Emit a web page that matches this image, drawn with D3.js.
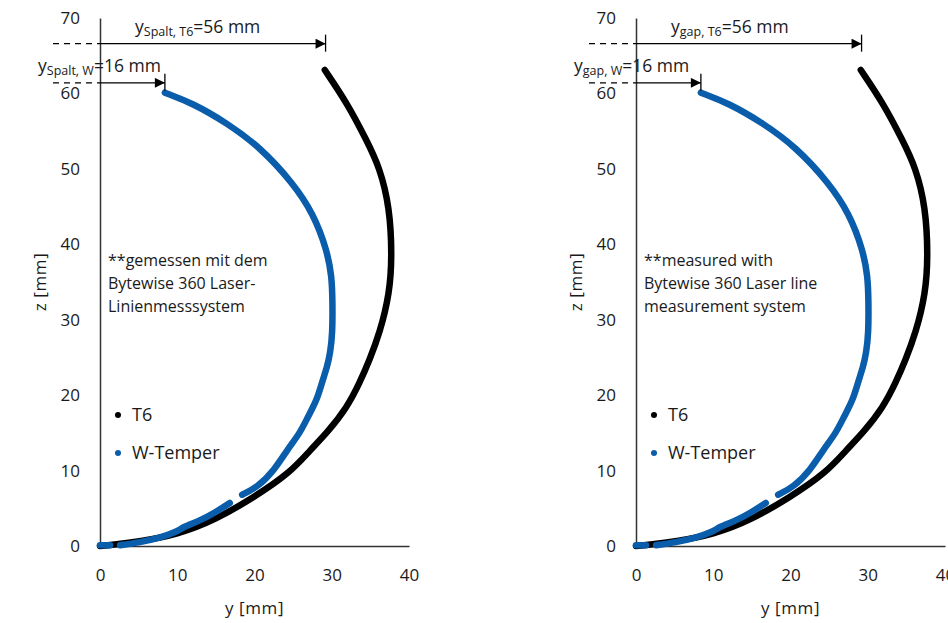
<!doctype html>
<html lang="de">
<head>
<meta charset="utf-8">
<title>Spaltmaß T6 / W-Temper</title>
<script src="https://cdn.jsdelivr.net/npm/d3@7"></script>
<style>
    body { margin: 0; background: #fff; }
    svg text { font-family: "Open Sans", Lato, sans-serif; fill: #1a1a1a; }
</style>
</head>
<body>
<svg id="chart" width="948" height="623"></svg>
<script>
    // axis ticks
    const yTicks = [0, 10, 20, 30, 40];
    const zTicks = [0, 10, 20, 30, 40, 50, 60, 70];

    // T6 profile, [y mm, z mm]
    const t6Points = [[0, 0], [2, 0.2], [5, 0.6], [10, 1.5], [15, 3.5], [20, 6.5], [24.6, 9.7],
        [27.2, 12.7], [29.4, 15], [32, 18.4], [33.6, 21.6], [34.9, 24.7], [36.2, 28.2],
        [37.5, 33.5], [37.8, 38.5], [37.5, 44.9], [36.2, 50.2], [34.5, 53.8], [32, 58.7],
        [29.1, 63.1]];

    // W-Temper profile, three pieces because of gaps in the scan
    const wTemperA = [[0, 0.1], [1.3, 0.1]];
    const wTemperB = [[2.6, 0.1], [5.2, 0.5], [7.5, 1.0], [10, 1.9], [10.7, 2.5], [13, 3.4],
        [15, 4.5], [16.8, 5.7]];
    const wTemperC = [[18.4, 6.8], [20.4, 7.8], [22.6, 10.1], [24.2, 12.7], [25.9, 15],
        [26.9, 17.1], [28.1, 19.4], [28.7, 21.6], [29.4, 23.7], [29.8, 25.6], [30.1, 28.2],
        [30.1, 32.6], [30, 35.7], [29.4, 39.2], [27.6, 44.1], [25, 48.1], [20.7, 52.9],
        [16.4, 56.1], [12, 58.7], [8.4, 60.1]];

    // gap annotations
    const gapT6 = { z: 66.6, y: 29.2, value: "=56 mm" };
    const gapW = { z: 61.4, y: 8.4, value: "=16 mm" };

    const panels = [
        { x0: 100, sub: "Spalt", note: ["**gemessen mit dem", "Bytewise 360 Laser-", "Linienmesssystem"] },
        { x0: 636, sub: "gap", note: ["**measured with", "Bytewise 360 Laser line", "measurement system"] }
    ];

    const black = "#000000", blue = "#0a5dab";
    const svg = d3.select("#chart");

    svg.append("defs").append("marker")
        .attr("id", "arrow")
        .attr("viewBox", "0 0 10 10")
        .attr("refX", 10).attr("refY", 5)
        .attr("markerWidth", 15).attr("markerHeight", 10)
        .attr("markerUnits", "userSpaceOnUse")
        .attr("orient", "auto")
        .append("path")
        .attr("d", "M0,0L10,5L0,10Z")
        .attr("fill", "#000");

    panels.forEach(function (p) {
        const x = d3.scaleLinear().domain([0, 40]).range([p.x0, p.x0 + 309]);
        const y = d3.scaleLinear().domain([0, 70]).range([546, 18]);
        const g = svg.append("g");

        // axes
        g.append("g")
            .attr("transform", "translate(0,546)")
            .call(d3.axisBottom(x).tickValues(yTicks).tickSize(0).tickPadding(23))
            .call(a => a.select(".domain").attr("stroke", "#333").attr("stroke-width", 1.5))
            .call(a => a.selectAll("text").attr("font-size", 17).attr("font-family", null).attr("fill", "#1a1a1a"));

        g.append("g")
            .attr("transform", "translate(" + p.x0 + ",0)")
            .call(d3.axisLeft(y).tickValues(zTicks).tickSize(0).tickPadding(20))
            .call(a => a.select(".domain").attr("stroke", "#333").attr("stroke-width", 1.5))
            .call(a => a.selectAll("text").attr("font-size", 17).attr("font-family", null).attr("fill", "#1a1a1a"));

        g.append("text")
            .attr("x", x(20)).attr("y", 614)
            .attr("text-anchor", "middle").attr("font-size", 17)
            .attr("letter-spacing", 0.6)
            .text("y [mm]");

        g.append("text")
            .attr("transform", "translate(" + (p.x0 - 54) + "," + y(35) + ") rotate(-90)")
            .attr("text-anchor", "middle").attr("font-size", 17)
            .attr("letter-spacing", 0.6)
            .text("z [mm]");

        // profiles
        const line = d3.line()
            .x(d => x(d[0]))
            .y(d => y(d[1]))
            .curve(d3.curveBasis);

        g.append("path").datum(t6Points)
            .attr("d", line).attr("fill", "none")
            .attr("stroke", black).attr("stroke-width", 6.5)
            .attr("stroke-linecap", "round").attr("stroke-linejoin", "round");

        [wTemperA, wTemperB, wTemperC].forEach(function (seg) {
            g.append("path").datum(seg)
                .attr("d", line).attr("fill", "none")
                .attr("stroke", blue).attr("stroke-width", 6.5)
                .attr("stroke-linecap", "round").attr("stroke-linejoin", "round");
        });

        // gap arrows
        [gapT6, gapW].forEach(function (a, i) {
            g.append("line")
                .attr("x1", p.x0 - 47).attr("x2", p.x0)
                .attr("y1", y(a.z)).attr("y2", y(a.z))
                .attr("stroke", "#000").attr("stroke-width", 1.3)
                .attr("stroke-dasharray", "6,5");
            g.append("line")
                .attr("x1", p.x0).attr("x2", x(a.y))
                .attr("y1", y(a.z)).attr("y2", y(a.z))
                .attr("stroke", "#000").attr("stroke-width", 1.3)
                .attr("marker-end", "url(#arrow)");
            g.append("line")
                .attr("x1", x(a.y)).attr("x2", x(a.y))
                .attr("y1", y(a.z) - 9).attr("y2", y(a.z) + 8)
                .attr("stroke", "#000").attr("stroke-width", 1.3);

            const lx = i === 0 ? p.x0 + 35 : p.x0 - 62;
            const t = g.append("text")
                .attr("x", lx).attr("y", y(a.z) - 11)
                .attr("font-size", 17.5);
            t.append("tspan").text("y");
            t.append("tspan").attr("font-size", 12.5).attr("dy", 3)
                .text(p.sub + (i === 0 ? ", T6" : ", W"));
            t.append("tspan").attr("dy", -3).text(a.value);
        });

        // note
        g.append("text")
            .attr("x", p.x0 + 8).attr("y", 266)
            .attr("font-size", 16)
            .selectAll("tspan")
            .data(p.note)
            .join("tspan")
            .attr("x", p.x0 + 8)
            .attr("dy", (d, i) => i === 0 ? 0 : 23)
            .text(d => d);

        // legend
        const legend = [{ name: "T6", color: black }, { name: "W-Temper", color: blue }];
        legend.forEach(function (l, i) {
            const ly = 415 + i * 38;
            g.append("circle")
                .attr("cx", p.x0 + 18).attr("cy", ly)
                .attr("r", 3).attr("fill", l.color);
            g.append("text")
                .attr("x", p.x0 + 32).attr("y", ly + 6)
                .attr("font-size", 18)
                .text(l.name);
        });
    });
</script>
</body>
</html>
